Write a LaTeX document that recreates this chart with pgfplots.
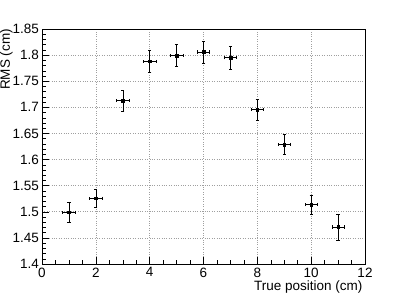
\documentclass[border=0pt]{standalone}
\usepackage{fontspec}
\setmainfont{Liberation Sans}
\usepackage{pgfplots}
\pgfplotsset{compat=1.18}
\begin{document}
\fontsize{13.5bp}{15bp}\selectfont
\begin{tikzpicture}[x=1bp,y=1bp]
\path[use as bounding box] (0,0) rectangle (407,294);
\begin{axis}[
  at={(42bp,30bp)}, anchor=south west,
  scale only axis, width=323bp, height=235bp,
  xmin=0, xmax=12, ymin=1.4, ymax=1.85,
  xtick={0,2,...,12}, minor x tick num=3,
  ytick={1.4,1.45,...,1.86}, minor y tick num=4,
  /pgf/number format/assume math mode=true,
  yticklabel style={/pgf/number format/fixed, /pgf/number format/precision=2, xshift=1.5bp},
  xticklabel style={yshift=1bp},
  tick align=inside, xtick pos=bottom, ytick pos=left,
  major tick length=7bp, minor tick length=4bp,
  grid=major, major grid style={dotted, gray!75, line width=0.6pt},
  axis line style={black, line width=0.6pt},
  tick style={black, line width=0.5pt},
  every tick label/.append style={font=\fontsize{13.5bp}{15bp}\selectfont},
  xlabel={True position (cm)}, ylabel={RMS (cm)},
  label style={font=\fontsize{13.5bp}{15bp}\selectfont},
  xlabel style={at={(rel axis cs:1,0)}, anchor=north east, yshift=-12bp, xshift=2bp},
  ylabel style={at={(axis description cs:-0.090,1)}, anchor=south east, inner sep=0pt},
]
\addplot[only marks, mark=square*, mark size=1.3pt, black,
  error bars/.cd, x dir=both, x explicit, y dir=both, y explicit,
  error bar style={black, line width=0.5pt},
  error mark options={rotate=90, mark size=1.6pt, black, line width=0.5pt}]
  table[x=x, y=y, x error=ex, y error=ey] {
x y ex ey
1 1.499 0.23 0.019
2 1.526 0.23 0.017
3 1.713 0.23 0.020
4 1.788 0.23 0.021
5 1.799 0.23 0.021
6 1.806 0.23 0.021
7 1.795 0.23 0.022
8 1.696 0.23 0.020
9 1.629 0.23 0.019
10 1.514 0.23 0.018
11 1.471 0.23 0.025
};
\end{axis}
\end{tikzpicture}
\end{document}
